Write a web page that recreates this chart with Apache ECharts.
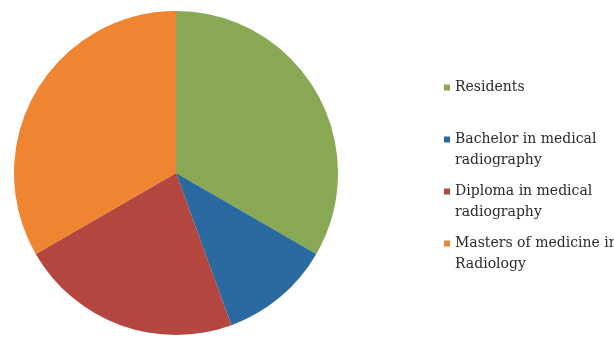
<!DOCTYPE html>
<html>
<head>
<meta charset="utf-8">
<script src="https://cdn.jsdelivr.net/npm/echarts@6/dist/echarts.min.js"></script>
<style>
html,body{margin:0;padding:0;background:#fff;}
#c{width:614px;height:337px;}
</style>
</head>
<body>
<div id="c"></div>
<script>
var categories = ['Residents', 'Bachelor in medical radiography', 'Diploma in medical radiography', 'Masters of medicine in Radiology'];
var legendLabels = [' \nResidents\n ', ' \nBachelor in medical\nradiography', ' \nDiploma in medical\nradiography', ' \nMasters of medicine in\nRadiology'];
var values = [12, 4, 8, 12];
var colors = ['#88a853', '#2b69a1', '#b3463f', '#ef8431'];

var chart = echarts.init(document.getElementById('c'));
var labelMap = {};
categories.forEach(function (c, i) { labelMap[c] = legendLabels[i]; });

chart.setOption({
  animation: false,
  color: colors,
  legend: {
    orient: 'vertical',
    left: 444,
    top: 56,
    padding: 0,
    itemWidth: 6,
    itemHeight: 6,
    itemGap: -11,
    icon: 'rect',
    data: categories,
    formatter: function (n) { return labelMap[n]; },
    textStyle: {
      fontFamily: 'DejaVu Serif',
      fontSize: 14,
      lineHeight: 21,
      color: '#2b2b2b'
    }
  },
  series: [{
    type: 'pie',
    center: [176, 173],
    radius: 162,
    startAngle: 90,
    clockwise: true,
    label: { show: false },
    labelLine: { show: false },
    emphasis: { disabled: true },
    itemStyle: { borderWidth: 0 },
    data: categories.map(function (c, i) { return { name: c, value: values[i] }; })
  }]
});
</script>
</body>
</html>
